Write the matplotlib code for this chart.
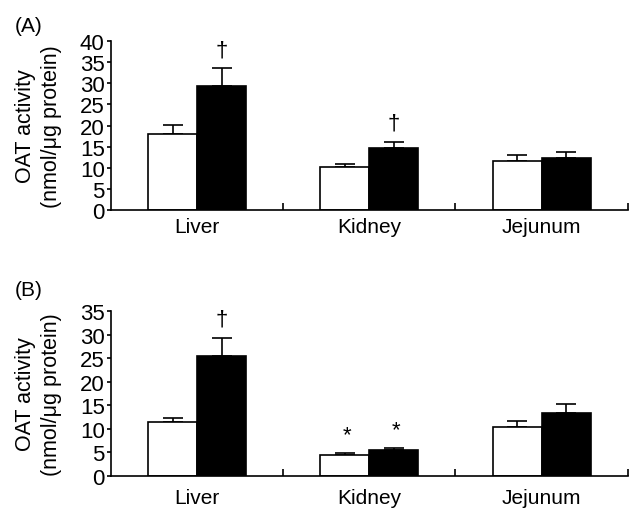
import matplotlib.pyplot as plt
import numpy as np

plt.rcParams['font.family'] = ['Liberation Sans', 'DejaVu Sans']

tissues = ['Liver', 'Kidney', 'Jejunum']

# panel A
a_white = [18.0, 10.1, 11.6]
a_white_err = [2.2, 0.7, 1.5]
a_black = [29.4, 14.7, 12.4]
a_black_err = [4.1, 1.5, 1.4]
a_white_marks = ['', '', '']
a_black_marks = ['\u2020', '\u2020', '']

# panel B
b_white = [11.4, 4.5, 10.5]
b_white_err = [0.9, 0.35, 1.2]
b_black = [25.5, 5.5, 13.3]
b_black_err = [3.9, 0.5, 2.0]
b_white_marks = ['', '*', '']
b_black_marks = ['\u2020', '*', '']

fig = plt.figure(figsize=(6.36, 5.10), dpi=100)
axA = fig.add_axes([0.1745, 0.5863, 0.8125, 0.3313])
axB = fig.add_axes([0.1745, 0.0647, 0.8125, 0.3233])

w = 0.285
x = np.arange(len(tissues))


def panel(ax, white, werr, black, berr, wmarks, bmarks, ymax, label, label_y, xpad):
    for xs, vals, errs, fc, marks in [(x - w / 2, white, werr, 'white', wmarks),
                                      (x + w / 2, black, berr, 'black', bmarks)]:
        ax.bar(xs, vals, w, color=fc, edgecolor='black', linewidth=1.2, zorder=2)
        ax.errorbar(xs, vals, yerr=[np.zeros(3), errs], fmt='none', ecolor='black',
                    elinewidth=1.2, capsize=7, capthick=1.2, zorder=1)
        for xi, v, e, m in zip(xs, vals, errs, marks):
            if m:
                ax.annotate(m, (xi, v + e), xytext=(1.5, 13) if m == '*' else (0, 13.5),
                            textcoords='offset points', ha='center', va='center',
                            fontsize=16)
    ax.set_xlim(-0.5, 2.5)
    ax.set_ylim(0, ymax)
    ax.set_yticks(np.arange(0, ymax + 1, 5))
    ax.set_xticks(x)
    ax.set_xticklabels(tissues, fontsize=15)
    ax.set_xticks([0.5, 1.5, 2.5], minor=True)
    ax.tick_params(axis='x', which='major', length=0, pad=xpad)
    ax.tick_params(axis='x', which='minor', direction='in', length=5, width=1.2)
    ax.tick_params(axis='y', direction='out', length=3, width=1.2, labelsize=16, pad=1.5)
    for s in ['top', 'right']:
        ax.spines[s].set_visible(False)
    for s in ['left', 'bottom']:
        ax.spines[s].set_linewidth(1.2)
    ax.set_ylabel('OAT activity\n(nmol/\u03bcg protein)', fontsize=15.5, linespacing=1.3)
    ax.yaxis.set_label_coords(-0.095, 0.5)
    ax.text(-0.186, label_y, label, transform=ax.transAxes, fontsize=15,
            ha='left', va='baseline')


panel(axA, a_white, a_white_err, a_black, a_black_err, a_white_marks, a_black_marks,
      40, '(A)', 1.06, 5)
panel(axB, b_white, b_white_err, b_black, b_black_err, b_white_marks, b_black_marks,
      35, '(B)', 1.10, 8.5)

fig.savefig('out.png', dpi=100)
